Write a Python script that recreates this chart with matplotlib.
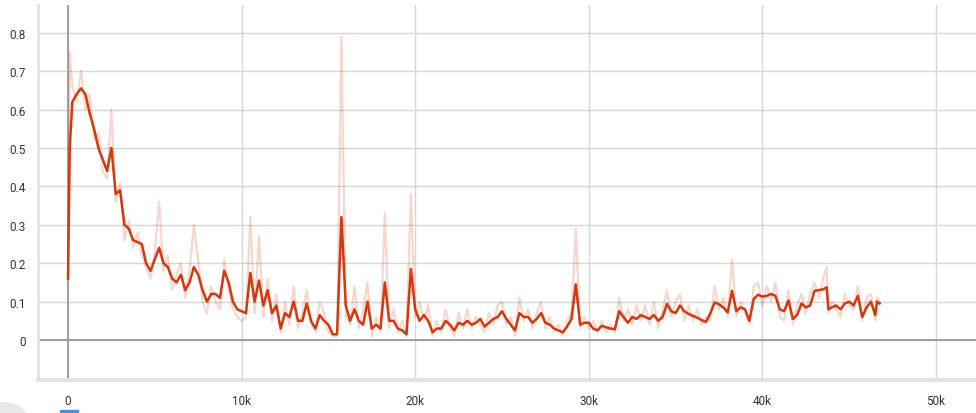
import matplotlib
matplotlib.use("Agg")
import matplotlib.pyplot as plt
from matplotlib.patches import Circle, Rectangle

steps = [0, 100, 250, 500, 750, 1000, 1250, 1500, 1750, 2000, 2250, 2500, 2750, 3000,
         3250, 3500, 3750, 4000, 4250, 4500, 4750, 5000, 5250, 5500, 5750, 6000, 6250,
         6500, 6750, 7000, 7250, 7500, 7750, 8000, 8250, 8500, 8750, 9000, 9250, 9500,
         9750, 10000, 10250, 10500, 10750, 11000, 11250, 11500, 11750, 12000, 12250,
         12500, 12750, 13000, 13250, 13500, 13750, 14000, 14250, 14500, 14750, 15000,
         15250, 15500, 15750, 16000, 16250, 16500, 16750, 17000, 17250, 17500, 17750,
         18000, 18250, 18500, 18750, 19000, 19250, 19500, 19750, 20000, 20250, 20500,
         20750, 21000, 21250, 21500, 21750, 22000, 22250, 22500, 22750, 23000, 23250,
         23500, 23750, 24000, 24250, 24500, 24750, 25000, 25250, 25500, 25750, 26000,
         26250, 26500, 26750, 27000, 27250, 27500, 27750, 28000, 28250, 28500, 28750,
         29000, 29250, 29500, 29750, 30000, 30250, 30500, 30750, 31000, 31250, 31500,
         31750, 32000, 32250, 32500, 32750, 33000, 33250, 33500, 33750, 34000, 34250,
         34500, 34750, 35000, 35250, 35500, 35750, 36000, 36250, 36500, 36750, 37000,
         37250, 37500, 37750, 38000, 38250, 38500, 38750, 39000, 39250, 39500, 39750,
         40000, 40250, 40500, 40750, 41000, 41250, 41500, 41750, 42000, 42250, 42500,
         42750, 43000, 43250, 43500, 43700, 43800, 44000, 44250, 44500, 44750, 45000,
         45250, 45500, 45750, 46000, 46250, 46500, 46600, 46750]

smoothed = [0.16, 0.50, 0.62, 0.64, 0.655, 0.64, 0.59, 0.55, 0.50, 0.47, 0.44, 0.50, 0.38, 0.39,
            0.30, 0.29, 0.26, 0.255, 0.25, 0.20, 0.18, 0.21, 0.24, 0.20, 0.19, 0.16, 0.15,
            0.17, 0.13, 0.15, 0.19, 0.17, 0.13, 0.10, 0.12, 0.12, 0.11, 0.18, 0.15, 0.10,
            0.08, 0.075, 0.07, 0.175, 0.10, 0.155, 0.09, 0.13, 0.07, 0.09, 0.03,
            0.07, 0.06, 0.10, 0.05, 0.05, 0.095, 0.05, 0.03, 0.065, 0.05, 0.04,
            0.015, 0.015, 0.32, 0.09, 0.05, 0.08, 0.05, 0.04, 0.10, 0.03, 0.04,
            0.03, 0.15, 0.05, 0.05, 0.03, 0.025, 0.015, 0.185, 0.08, 0.05, 0.065,
            0.05, 0.02, 0.03, 0.03, 0.05, 0.04, 0.025, 0.045, 0.04, 0.05, 0.04,
            0.045, 0.055, 0.035, 0.045, 0.055, 0.06, 0.075, 0.055, 0.04, 0.025, 0.07,
            0.06, 0.06, 0.045, 0.055, 0.07, 0.045, 0.04, 0.03, 0.025, 0.02, 0.035,
            0.055, 0.145, 0.04, 0.045, 0.045, 0.03, 0.025, 0.037, 0.033, 0.03, 0.028,
            0.075, 0.06, 0.045, 0.06, 0.055, 0.065, 0.06, 0.055, 0.065, 0.05, 0.06,
            0.094, 0.075, 0.07, 0.09, 0.075, 0.068, 0.063, 0.058, 0.052, 0.047, 0.07,
            0.098, 0.093, 0.085, 0.072, 0.128, 0.075, 0.085, 0.08, 0.05, 0.107, 0.118,
            0.113, 0.115, 0.12, 0.115, 0.08, 0.075, 0.103, 0.055, 0.065, 0.095, 0.085,
            0.09, 0.128, 0.13, 0.132, 0.137, 0.08, 0.085, 0.09, 0.08, 0.095, 0.10,
            0.09, 0.115, 0.06, 0.085, 0.10, 0.065, 0.10, 0.095]

raw = [0.16, 0.75, 0.66, 0.62, 0.70, 0.60, 0.64, 0.52, 0.54, 0.44, 0.42, 0.60, 0.36, 0.41,
       0.26, 0.31, 0.24, 0.28, 0.22, 0.19, 0.16, 0.23, 0.36, 0.18, 0.22, 0.13, 0.17,
       0.20, 0.11, 0.18, 0.30, 0.21, 0.10, 0.07, 0.14, 0.10, 0.08, 0.21, 0.13, 0.08,
       0.06, 0.05, 0.06, 0.32, 0.07, 0.27, 0.06, 0.16, 0.05, 0.12, 0.02,
       0.10, 0.04, 0.14, 0.03, 0.07, 0.13, 0.04, 0.02, 0.10, 0.07, 0.02,
       0.01, 0.01, 0.79, 0.06, 0.04, 0.14, 0.03, 0.08, 0.15, 0.01, 0.06,
       0.02, 0.33, 0.03, 0.08, 0.02, 0.05, 0.01, 0.38, 0.06, 0.10, 0.05,
       0.09, 0.01, 0.05, 0.02, 0.08, 0.03, 0.01, 0.07, 0.03, 0.08, 0.03,
       0.06, 0.04, 0.02, 0.07, 0.04, 0.09, 0.10, 0.04, 0.06, 0.01, 0.11,
       0.05, 0.08, 0.03, 0.07, 0.10, 0.03, 0.06, 0.02, 0.04, 0.01, 0.05,
       0.07, 0.29, 0.03, 0.06, 0.03, 0.05, 0.02, 0.05, 0.02, 0.04, 0.02,
       0.11, 0.05, 0.08, 0.04, 0.09, 0.05, 0.09, 0.04, 0.10, 0.03, 0.08,
       0.13, 0.06, 0.10, 0.12, 0.05, 0.09, 0.05, 0.08, 0.04, 0.06, 0.05,
       0.14, 0.08, 0.11, 0.06, 0.21, 0.06, 0.10, 0.07, 0.04, 0.14, 0.15,
       0.09, 0.14, 0.10, 0.15, 0.06, 0.05, 0.13, 0.04, 0.09, 0.12, 0.07,
       0.12, 0.15, 0.11, 0.16, 0.19, 0.07, 0.10, 0.08, 0.06, 0.12, 0.09,
       0.08, 0.14, 0.05, 0.11, 0.12, 0.05, 0.11, 0.10]

x_ticks = [0, 10000, 20000, 30000, 40000, 50000]
x_labels = ["0", "10k", "20k", "30k", "40k", "50k"]
y_ticks = [0, 0.1, 0.2, 0.3, 0.4, 0.5, 0.6, 0.7, 0.8]
y_labels = ["0", "0.1", "0.2", "0.3", "0.4", "0.5", "0.6", "0.7", "0.8"]

plt.rcParams["font.family"] = ["Roboto", "DejaVu Sans"]

W, H = 976, 414
fig = plt.figure(figsize=(W / 100, H / 100), dpi=100)
left, right, top, bottom = 38, 976, 6, 381
ax = fig.add_axes([left / W, 1 - bottom / H, (right - left) / W, (bottom - top) / H])

line_color = "#d4380d"
ax.plot(steps, raw, color=line_color, alpha=0.2, lw=1.6, zorder=3)
ax.plot(steps, smoothed, color=line_color, lw=1.8, zorder=4)

ax.set_xlim(-1728, 52304)
ax.set_ylim(-0.104, 0.872)

ax.set_xticks(x_ticks)
ax.set_xticklabels(x_labels)
ax.set_yticks(y_ticks)
ax.set_yticklabels(y_labels)

ax.grid(True, color="#d6d6d6", lw=1.0, zorder=1)
ax.axhline(0, color="#9a9a9a", lw=1.3, zorder=2)
ax.axvline(0, color="#9a9a9a", lw=1.3, zorder=2)

for s in ["top", "right"]:
    ax.spines[s].set_visible(False)
ax.spines["left"].set_color("#e2e2e2")
ax.spines["left"].set_linewidth(2)
ax.spines["bottom"].set_color("#e2e2e2")
ax.spines["bottom"].set_linewidth(3)

ax.tick_params(axis="both", length=0, labelsize=8.5, colors="#333333")
ax.tick_params(axis="y", pad=9)
ax.tick_params(axis="x", pad=10)

# small UI fragments at the bottom edge
fig.patches.append(Circle((0, 0), 0.025, transform=fig.transFigure, color="#e8e8e8",
                          zorder=0))
fig.patches.append(Rectangle((60 / W, 0), 18 / W, 3 / H, transform=fig.transFigure,
                             color="#4a90d9", zorder=0))

fig.savefig("out.png", dpi=100)
